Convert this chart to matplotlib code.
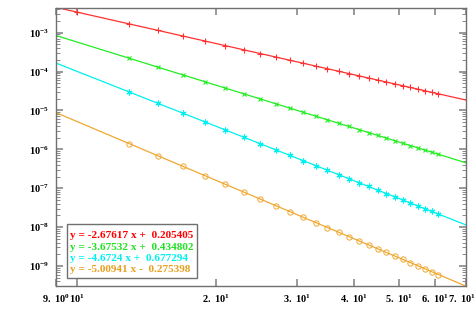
import numpy as np
import matplotlib
matplotlib.use("Agg")
import matplotlib.pyplot as plt
from matplotlib.patches import Rectangle
from matplotlib.ticker import FixedLocator, LogLocator, NullFormatter
from matplotlib.transforms import ScaledTranslation

plt.rcParams['mathtext.fontset'] = 'custom'
plt.rcParams['mathtext.rm'] = 'Liberation Serif:bold'
plt.rcParams['mathtext.bf'] = 'Liberation Serif:bold'
plt.rcParams['mathtext.it'] = 'Liberation Serif:bold'
plt.rcParams['font.family'] = ['Liberation Serif', 'DejaVu Serif']

# ---- data ----
x_red = [10, 13, 15, 17, 19, 21, 23, 25, 27, 29, 31, 33, 35, 37, 39, 41, 43, 45, 47, 49, 51, 53, 55, 57, 59, 61]
y_red = [3.38e-3, 1.676e-3, 1.143e-3, 8.18e-4, 6.07e-4, 4.64e-4, 3.64e-4, 2.91e-4, 2.37e-4, 1.96e-4,
         1.64e-4, 1.385e-4, 1.184e-4, 1.020e-4, 8.86e-5, 7.75e-5, 6.82e-5, 6.04e-5, 5.38e-5, 4.81e-5,
         4.32e-5, 3.90e-5, 3.53e-5, 3.21e-5, 2.93e-5, 2.68e-5]
x_oth = [13, 15, 17, 19, 21, 23, 25, 27, 29, 31, 33, 35, 37, 39, 41, 43, 45, 47, 49, 51, 53, 55, 57, 59, 61]
y_green = [2.191e-4, 1.295e-4, 8.18e-5, 5.43e-5, 3.76e-5, 2.69e-5, 1.98e-5, 1.49e-5, 1.15e-5, 8.99e-6,
           7.14e-6, 5.75e-6, 4.69e-6, 3.87e-6, 3.22e-6, 2.70e-6, 2.28e-6, 1.95e-6, 1.67e-6, 1.44e-6,
           1.25e-6, 1.09e-6, 9.58e-7, 8.44e-7, 7.47e-7]
y_cyan = [2.97e-5, 1.52e-5, 8.48e-6, 5.04e-6, 3.16e-6, 2.06e-6, 1.40e-6, 9.76e-7, 6.99e-7, 5.12e-7,
          3.82e-7, 2.90e-7, 2.24e-7, 1.75e-7, 1.39e-7, 1.11e-7, 8.97e-8, 7.32e-8, 6.03e-8, 5.00e-8,
          4.18e-8, 3.51e-8, 2.97e-8, 2.53e-8, 2.17e-8]
y_orange = [1.39e-6, 6.81e-7, 3.64e-7, 2.08e-7, 1.26e-7, 8.00e-8, 5.27e-8, 3.58e-8, 2.51e-8, 1.79e-8,
            1.31e-8, 9.77e-9, 7.39e-9, 5.68e-9, 4.42e-9, 3.48e-9, 2.77e-9, 2.23e-9, 1.81e-9, 1.48e-9,
            1.22e-9, 1.01e-9, 8.49e-10, 7.14e-10, 6.04e-10]

slopes = [-2.67617, -3.67532, -4.6724, -5.00941]
intercepts = [0.205405, 0.434802, 0.677294, -0.275398]
fit_labels = ["y = -2.67617 x +  0.205405",
              "y = -3.67532 x +  0.434802",
              "y = -4.6724 x +  0.677294",
              "y = -5.00941 x -  0.275398"]

xtick_vals = [9, 10, 20, 30, 40, 50, 60, 70]
xtick_labels = [r'$\mathbf{9.\ 10^{0}}$', r'$\mathbf{10^{1}}$', r'$\mathbf{2.\ 10^{1}}$',
                r'$\mathbf{3.\ 10^{1}}$', r'$\mathbf{4.\ 10^{1}}$', r'$\mathbf{5.\ 10^{1}}$',
                r'$\mathbf{6.\ 10^{1}}$', r'$\mathbf{7.\ 10^{1}}$']
ytick_vals = [1e-9, 1e-8, 1e-7, 1e-6, 1e-5, 1e-4, 1e-3]
ytick_labels = [r'$\mathbf{10^{-9}}$', r'$\mathbf{10^{-8}}$', r'$\mathbf{10^{-7}}$', r'$\mathbf{10^{-6}}$',
                r'$\mathbf{10^{-5}}$', r'$\mathbf{10^{-4}}$', r'$\mathbf{10^{-3}}$']

colors = ['#ff3030', '#22ee22', '#00f0f0', '#f0a830']
text_colors = ['#ff0000', '#22e022', '#00f0f0', '#e8a020']

fig = plt.figure(figsize=(4.76, 3.27), dpi=100)
ax = fig.add_axes([56/476, 41/327, 410/476, 278/327])
ax.set_xscale('log')
ax.set_yscale('log')
ax.set_xlim(9, 70)
ax.set_ylim(10**-9.514, 10**-2.365)

xx = np.geomspace(9, 70, 200)
for a, b, c in zip(slopes, intercepts, colors):
    ax.plot(xx, 10**(a*np.log10(xx) + b), color=c, lw=0.9, zorder=2)

ax.plot(x_red, y_red, ls='none', marker='+', ms=4.8, mew=0.8, color=colors[0], zorder=3)
ax.plot(x_oth, y_green, ls='none', marker='x', ms=3.4, mew=0.8, color=colors[1], zorder=3)
ax.plot(x_oth, y_cyan, ls='none', marker=(6, 2, 0), ms=4.2, mew=0.8, color=colors[2], zorder=3)
ax.plot(x_oth, y_orange, ls='none', marker='o', ms=3.8, mew=0.7, mfc='none', color=colors[3], zorder=3)

ax.xaxis.set_major_locator(FixedLocator(xtick_vals))
ax.xaxis.set_minor_locator(FixedLocator([]))
ax.set_xticklabels(xtick_labels)
ax.yaxis.set_major_locator(FixedLocator(ytick_vals))
ax.set_yticklabels(ytick_labels)
ax.yaxis.set_minor_locator(LogLocator(base=10, subs=np.arange(2, 10), numticks=20))
ax.yaxis.set_minor_formatter(NullFormatter())

ax.tick_params(which='both', direction='in', top=True, right=True, color='#888888', labelsize=7.5)
ax.tick_params(which='major', length=5, width=1.2, pad=5)
ax.tick_params(which='minor', length=3, width=0.7)
for s in ax.spines.values():
    s.set_color('#707070')
    s.set_linewidth(1.0)

# shift the last x label a bit left so it stays inside the figure
lbl = ax.get_xticklabels()[-1]
lbl.set_transform(lbl.get_transform() + ScaledTranslation(-4/100, 0, fig.dpi_scale_trans))

# legend box
x0, x1 = (66.7-56)/410, (197-56)/410
y0, y1 = (286-277.5)/278, (286-224.3)/278
ax.add_patch(Rectangle((x0, y0), x1-x0, y1-y0, transform=ax.transAxes, fill=True,
                       facecolor='white', edgecolor='#707070', lw=1.0, zorder=5))
ys = [236, 247.3, 258.7, 270]
for lab, c, yp in zip(fit_labels, text_colors, ys):
    ax.text((70-56)/410, (286-yp)/278, lab, color=c, transform=ax.transAxes, fontsize=8.1,
            fontweight='bold', va='center', ha='left', zorder=6)

fig.savefig('out.png', dpi=100)
